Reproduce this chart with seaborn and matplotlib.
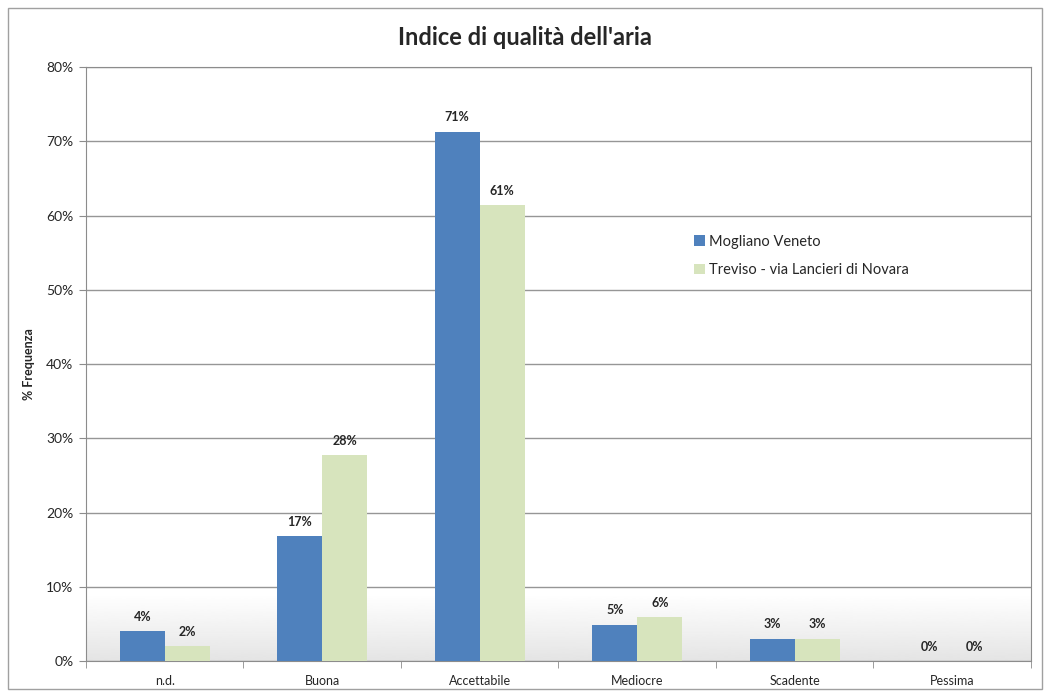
import matplotlib
matplotlib.use("Agg")
import matplotlib.pyplot as plt
import seaborn as sns
import pandas as pd
import numpy as np
from matplotlib.patches import Rectangle

# Data
categories = ['n.d.', 'Buona', 'Accettabile', 'Mediocre', 'Scadente', 'Pessima']
mogliano = [4.0, 16.8, 71.3, 4.9, 3.0, 0.0]
treviso = [2.0, 27.7, 61.4, 5.9, 3.0, 0.0]
labels_mogliano = ['4%', '17%', '71%', '5%', '3%', '0%']
labels_treviso = ['2%', '28%', '61%', '6%', '3%', '0%']
series = ['Mogliano Veneto', 'Treviso - via Lancieri di Novara']

df = pd.DataFrame({
    'Categoria': categories * 2,
    'Valore': mogliano + treviso,
    'Stazione': [series[0]] * len(categories) + [series[1]] * len(categories),
})

sns.set_style('white')
plt.rcParams['font.family'] = ['Lato', 'DejaVu Sans']

fig = plt.figure(figsize=(10.5, 6.93), dpi=100)
ax = fig.add_axes([0.0819, 0.0462, 0.9, 0.857])

# outer chart border
fig.patches.append(Rectangle((8 / 1050, 4 / 693), 1034 / 1050, 681 / 693, transform=fig.transFigure,
                             fill=False, edgecolor='#a0a0a0', linewidth=1))

# gradient at the bottom of the plot area
grad = np.linspace(0.87, 1.0, 100).reshape(-1, 1) ** 0.8
ax.imshow(grad, cmap='gray', vmin=0, vmax=1, aspect='auto', origin='lower',
          extent=[-0.5, 5.5, 0, 9], zorder=0)

sns.barplot(data=df, x='Categoria', y='Valore', hue='Stazione', order=categories,
            palette=['#4f81bd', '#d7e4bd'], width=0.572, saturation=1, linewidth=0,
            ax=ax, zorder=3)

# value labels
for cont, labs in zip(ax.containers, [labels_mogliano, labels_treviso]):
    ax.bar_label(cont, labels=labs, padding=6, fontsize=9, fontweight='bold')

ax.set_xlim(-0.5, 5.5)
ax.set_ylim(0, 80)
ax.set_yticks(range(0, 81, 10))
ax.set_yticklabels([f'{v}%' for v in range(0, 81, 10)], fontsize=10)
ax.yaxis.grid(True, color='#969696', linewidth=1)
ax.set_axisbelow(True)
for s in ax.spines.values():
    s.set_color('#8c8c8c')
ax.tick_params(axis='y', length=5, color='#8c8c8c', direction='out', left=True, pad=4)
ax.tick_params(axis='x', length=0, labelsize=9, pad=10)
ax.set_xticks(range(6))
ax.set_xticks(np.arange(-0.5, 6, 1), minor=True)
ax.tick_params(axis='x', which='minor', length=5, color='#8c8c8c', bottom=True)
ax.set_xlabel('')
ax.set_ylabel('% Frequenza', fontsize=9, fontweight='bold', labelpad=8)

fig.suptitle("Indice di qualità dell'aria", fontsize=17, fontweight='bold', y=0.963)

leg = ax.legend(loc='upper left', bbox_to_anchor=(0.63, 0.74), frameon=False, fontsize=10.5,
                handlelength=0.7, handleheight=0.7, handletextpad=0.3, labelspacing=1.0)

fig.savefig('out.png', dpi=100)
